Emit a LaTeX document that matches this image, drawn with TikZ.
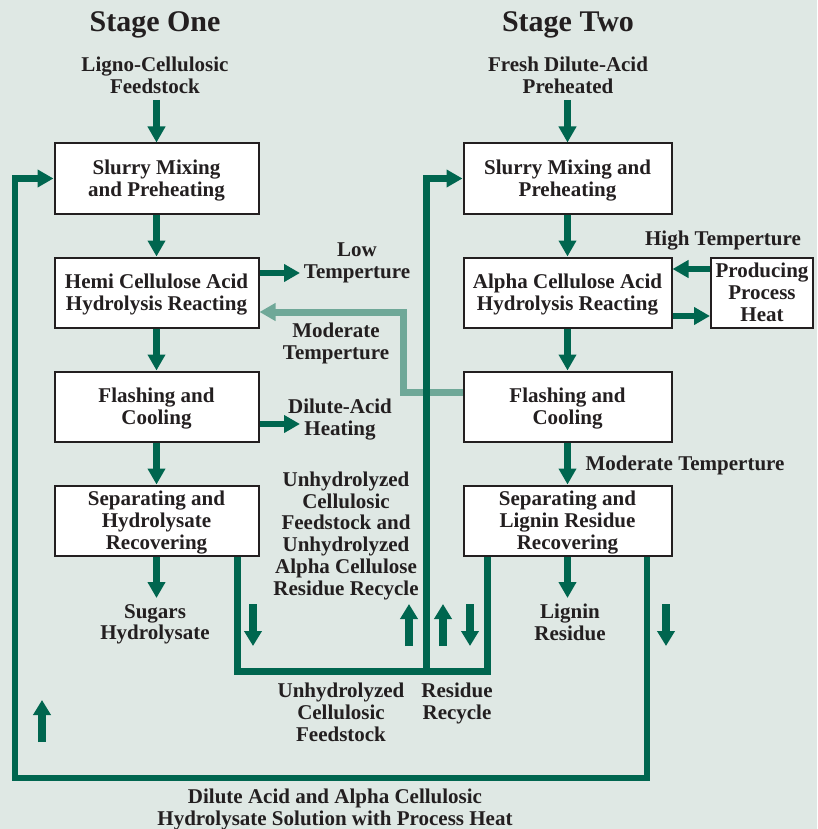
\documentclass[tikz,border=0pt]{standalone}
\usepackage{fontspec}
\setmainfont{Liberation Serif}
\usetikzlibrary{arrows.meta}

\definecolor{bgcol}{HTML}{DFE8E4}
\definecolor{flowgreen}{HTML}{00664F}
\definecolor{backgreen}{HTML}{6FA898}
\definecolor{inkcol}{HTML}{231F20}

\newcommand{\bodyfont}{\fontsize{21}{21.8}\selectfont\bfseries}
\newcommand{\titlefont}{\fontsize{30}{31}\selectfont\bfseries}

\tikzset{
  proc/.style={draw=inkcol, line width=2pt, fill=white, minimum height=70pt,
    align=center, font=\bodyfont, text=inkcol, inner sep=0pt, text depth=0pt},
  lbl/.style={align=center, font=\bodyfont, text=inkcol, inner sep=0pt, text depth=0pt},
  flow/.style={flowgreen, line width=6.5pt, -{Triangle[width=17pt,length=16pt]}},
  loopline/.style={flowgreen, line width=7pt},
  back/.style={backgreen, line width=7pt, -{Triangle[width=17pt,length=16pt]}},
}

\begin{document}
\begin{tikzpicture}[x=1pt, y=-1pt]

\fill[bgcol] (0,0) rectangle (817,829);

% Titles and inputs
\node[lbl, font=\titlefont] (stone) at (155,22) {Stage One};
\node[lbl, font=\titlefont] (sttwo) at (568,22) {Stage Two};
\node[lbl] (feed) at (155,75) {Ligno-Cellulosic\\Feedstock};
\node[lbl] (fresh) at (568,75) {Fresh Dilute-Acid\\Preheated};

% Stage one
\node[proc, minimum width=204pt] (mixa) at (156.5,178.5) {Slurry Mixing\\and Preheating};
\node[proc, minimum width=204pt] (hemi) at (156.5,292.5) {Hemi Cellulose Acid\\Hydrolysis Reacting};
\node[proc, minimum width=204pt] (flasha) at (156.5,406.5) {Flashing and\\Cooling};
\node[proc, minimum width=204pt] (sepa) at (156.5,520.5) {Separating and\\Hydrolysate\\Recovering};

% Stage two
\node[proc, minimum width=208pt] (mixb) at (567.5,178.5) {Slurry Mixing and\\Preheating};
\node[proc, minimum width=208pt] (alpha) at (567.5,292.5) {Alpha Cellulose Acid\\Hydrolysis Reacting};
\node[proc, minimum width=208pt] (flashb) at (567.5,406.5) {Flashing and\\Cooling};
\node[proc, minimum width=208pt] (sepb) at (567.5,520.5) {Separating and\\Lignin Residue\\Recovering};
\node[proc, minimum width=102pt] (heat) at (762,292.5) {Producing\\Process\\Heat};

% Labels
\node[lbl] (lowt) at (357,261) {Low\\Temperture};
\node[lbl] (modt) at (336,341) {Moderate\\Temperture};
\node[lbl] (dilh) at (340,417) {Dilute-Acid\\Heating};
\node[lbl] (unrec) at (346,533.5) {Unhydrolyzed\\Cellulosic\\Feedstock and\\Unhydrolyzed\\Alpha Cellulose\\Residue Recycle};
\node[lbl] (sugars) at (155,622) {Sugars\\Hydrolysate};
\node[lbl] (lignin) at (570,622) {Lignin\\Residue};
\node[lbl] (unfeed) at (341,712) {Unhydrolyzed\\Cellulosic\\Feedstock};
\node[lbl] (resrec) at (457,701.5) {Residue\\Recycle};
\node[lbl] (dilsol) at (335,807.5) {Dilute Acid and Alpha Cellulosic\\Hydrolysate Solution with Process Heat};
\node[lbl] (hight) at (723,238) {High Temperture};
\node[lbl] (modtb) at (685,463) {Moderate Temperture};

% Free ends and corners
\coordinate (feedtop) at (0,100);
\coordinate (lowend) at (300,273);
\coordinate (dilend) at (300,424);
\coordinate (sugend) at (0,598);
\coordinate (bk1) at (403,392);
\coordinate (bk2) at (403,312);
\coordinate (ia) at (237,671);
\coordinate (ib) at (487,671);
\coordinate (ic) at (426.5,671);
\coordinate (oa) at (647,778);
\coordinate (ob) at (15,778);

% Light green return (under the dark lines)
\draw[back] (flashb.west |- bk1) -- (bk1) -- (bk2) -- (hemi.east |- bk2);

% Stage one flow
\draw[flow] (mixa.north |- feedtop) -- (mixa.north);
\draw[flow] (mixa) -- (hemi);
\draw[flow] (hemi) -- (flasha);
\draw[flow] (flasha) -- (sepa);
\draw[flow] (sepa.south) -- (sepa.south |- sugend);
\draw[flow] (hemi.east |- lowend) -- (lowend);
\draw[flow] (flasha.east |- dilend) -- (dilend);

% Stage two flow
\draw[flow] (mixb.north |- feedtop) -- (mixb.north);
\draw[flow] (mixb) -- (alpha);
\draw[flow] (alpha) -- (flashb);
\draw[flow] (flashb) -- (sepb);
\draw[flow] (sepb.south) -- (sepb.south |- sugend);
\draw[flow] ([yshift=23.5pt]heat.west) -- ([yshift=23.5pt]alpha.east);
\draw[flow] ([yshift=-23.5pt]alpha.east) -- ([yshift=-23.5pt]heat.west);

% Recycle loops
\draw[loopline] (sepa.south -| ia) -- (ia) -- (ib) -- (sepb.south -| ib);
\draw[flow] (ic) |- (mixb.west);
\draw[flow] (sepb.south -| oa) -- (oa) -- (ob) |- (mixa.west);

% Direction marks
\foreach \x/\a/\b in {253/604/646, 409/646/604, 443/646/604, 470/604/646, 666/604/646, 42/742/700}
  \draw[flow, line width=8pt, -{Triangle[width=17pt,length=15pt]}] (\x,\a) -- (\x,\b);

\end{tikzpicture}
\end{document}
